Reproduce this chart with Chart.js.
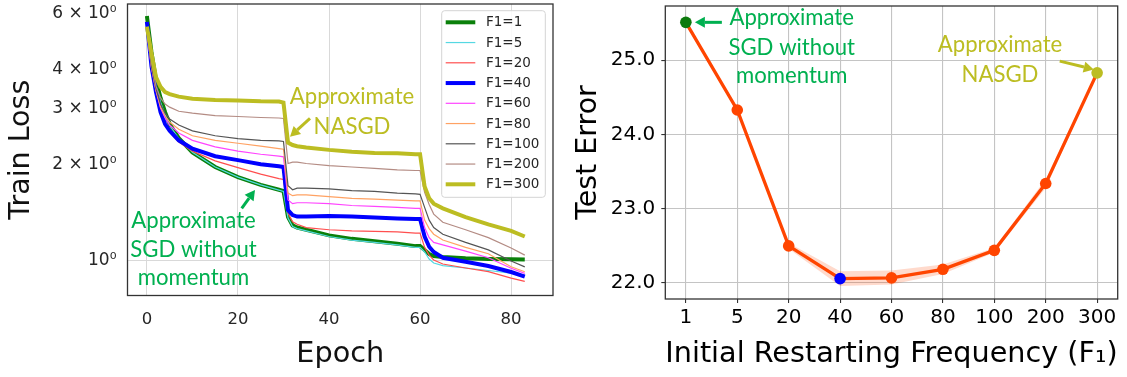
<!DOCTYPE html>
<html><head><meta charset="utf-8">
<script src="https://cdn.jsdelivr.net/npm/chart.js@4.4.1/dist/chart.umd.min.js"></script>
<style>
body{margin:0;background:#fff;width:1127px;height:377px;overflow:hidden;position:relative}
canvas{position:absolute;top:0}
#c1{left:0}#c2{left:560px}
</style></head><body>
<canvas id="c1" width="560" height="377"></canvas>
<canvas id="c2" width="567" height="377"></canvas>
<script>
// ---------- data: left panel (train loss, log scale) ----------
const epochs = [0,1,2,3,4,5,7,10,15,20,25,29,30,31,32,33,35,40,45,50,55,59,60,61,62,63,65,70,75,80,83];
const lossF1_1   = [5.88,4.53,3.70,3.25,2.93,2.69,2.43,2.19,1.97,1.83,1.73,1.67,1.655,1.37,1.29,1.27,1.25,1.20,1.17,1.15,1.13,1.11,1.11,1.08,1.048,1.033,1.025,1.016,1.011,1.009,1.007];
const lossF1_5   = [5.6,4.3,3.55,3.15,2.87,2.66,2.42,2.19,1.97,1.83,1.73,1.665,1.65,1.36,1.28,1.26,1.24,1.19,1.16,1.14,1.12,1.10,1.10,1.064,1.011,0.982,0.964,0.947,0.930,0.913,0.900];
const lossF1_20  = [5.5,4.06,3.39,2.93,2.69,2.54,2.36,2.21,2.06,1.96,1.87,1.81,1.80,1.41,1.325,1.30,1.27,1.25,1.24,1.235,1.23,1.22,1.22,1.10,1.04,1.004,0.975,0.947,0.923,0.88,0.86];
const lossF1_40  = [5.64,4.09,3.39,2.93,2.69,2.56,2.39,2.25,2.13,2.07,2.01,1.98,1.97,1.44,1.39,1.375,1.375,1.38,1.375,1.366,1.356,1.35,1.35,1.19,1.105,1.064,1.02,0.991,0.961,0.92,0.89];
const lossF1_60  = [5.3,4.05,3.42,3.02,2.81,2.67,2.52,2.39,2.28,2.21,2.16,2.13,2.12,1.55,1.51,1.52,1.52,1.51,1.49,1.48,1.47,1.46,1.46,1.27,1.18,1.14,1.12,1.07,1.02,0.945,0.911];
const lossF1_80  = [5.3,4.06,3.44,3.04,2.85,2.73,2.59,2.47,2.39,2.34,2.29,2.25,2.24,1.63,1.60,1.61,1.61,1.59,1.57,1.56,1.55,1.54,1.54,1.34,1.26,1.21,1.16,1.10,1.05,0.956,0.922];
const lossF1_100 = [5.4,4.09,3.47,3.11,2.91,2.79,2.67,2.56,2.47,2.42,2.39,2.38,2.37,1.72,1.67,1.69,1.69,1.68,1.66,1.65,1.63,1.62,1.615,1.47,1.34,1.27,1.21,1.14,1.08,0.996,0.955];
const lossF1_200 = [5.35,4.21,3.54,3.25,3.11,3.04,2.95,2.91,2.86,2.84,2.82,2.81,2.80,2.02,2.04,2.04,2.02,1.99,1.97,1.95,1.93,1.92,1.92,1.64,1.50,1.40,1.32,1.25,1.18,1.095,1.04];
const lossF1_300 = [5.45,4.50,3.78,3.52,3.39,3.34,3.28,3.23,3.20,3.19,3.17,3.165,3.14,2.35,2.31,2.29,2.27,2.23,2.20,2.18,2.175,2.16,2.16,1.71,1.57,1.51,1.46,1.37,1.30,1.24,1.19];
const seriesLabels = ['F1=1','F1=5','F1=20','F1=40','F1=60','F1=80','F1=100','F1=200','F1=300'];
const lossSeries = [lossF1_1,lossF1_5,lossF1_20,lossF1_40,lossF1_60,lossF1_80,lossF1_100,lossF1_200,lossF1_300];
const lossTickValues = [1,2,3,4,6];
const lossTickLabels = ['10\u2070','2 \u00d7 10\u2070','3 \u00d7 10\u2070','4 \u00d7 10\u2070','6 \u00d7 10\u2070'];
const epochTicks = [0,20,40,60,80];

// ---------- data: right panel (test error) ----------
const freqCategories = ['1','5','20','40','60','80','100','200','300'];
const testError     = [25.51,24.33,22.50,22.06,22.07,22.185,22.44,23.34,24.83];
const testErrorLow  = [25.50,24.32,22.46,21.96,21.98,22.12,22.41,23.28,24.81];
const testErrorHigh = [25.52,24.34,22.54,22.16,22.17,22.25,22.47,23.40,24.85];
const errorTicks = [22,23,24,25];

// ---------- styles ----------
const seriesColors = ['#0a800a','#55d8e2','#ff4f4f','#0000ff','#ff44ff','#ffa263','#555555','#b48c84','#bcbd22'];
const seriesWidths = [4,1.2,1.2,4,1.2,1.2,1.2,1.2,4];
const pointColors = ['#0d7a0d','#ff4500','#ff4500','#0000ff','#ff4500','#ff4500','#ff4500','#ff4500','#bcbd22'];
const GREEN_TXT = '#00b050', OLIVE_TXT = '#bcbd22';
const TICKFONT = 'DejaVu Sans';

function arrow(ctx,x1,y1,x2,y2,color,lw,head){
  const a=Math.atan2(y2-y1,x2-x1);
  const bx=x2-head*Math.cos(a), by=y2-head*Math.sin(a);
  ctx.save();
  ctx.strokeStyle=color; ctx.lineWidth=lw; ctx.lineCap='butt';
  ctx.beginPath(); ctx.moveTo(x1,y1); ctx.lineTo(bx,by); ctx.stroke();
  ctx.fillStyle=color; ctx.beginPath(); ctx.moveTo(x2,y2);
  const w=head*0.55;
  ctx.lineTo(bx+w*Math.sin(a), by-w*Math.cos(a));
  ctx.lineTo(bx-w*Math.sin(a), by+w*Math.cos(a));
  ctx.closePath(); ctx.fill(); ctx.restore();
}
function fitSize(ctx,text,family,target){
  ctx.font='100px "'+family+'"';
  return 100*target/ctx.measureText(text).width;
}
function textLines(ctx,lines,cx,ys,color,size,family){
  ctx.save(); ctx.fillStyle=color; ctx.font=size+'px "'+family+'"';
  ctx.textAlign='center'; ctx.textBaseline='middle';
  lines.forEach((t,i)=>ctx.fillText(t,cx,ys[i])); ctx.restore();
}
const ANNOT_FONT='Lato';

const framePlugin = {
  id:'frame',
  afterDatasetsDraw(chart){
    const {ctx,chartArea:a}=chart;
    ctx.save(); ctx.strokeStyle='#333'; ctx.lineWidth=1.3;
    ctx.strokeRect(a.left,a.top,a.right-a.left,a.bottom-a.top); ctx.restore();
  }
};

// ---------- left chart ----------
const leftAnnot = {
  id:'leftAnnot',
  afterDatasetsDraw(chart){
    const ctx=chart.ctx;
    ctx.save();
    const bx=441.7, by=10.7, bw=103.6, bh=186.6, r=3;
    ctx.beginPath(); ctx.roundRect(bx,by,bw,bh,r);
    ctx.fillStyle='rgba(255,255,255,0.85)'; ctx.fill();
    ctx.strokeStyle='#d4d4d4'; ctx.lineWidth=1; ctx.stroke();
    chart.data.datasets.forEach((d,i)=>{
      const y=22.3+i*20.25;
      ctx.strokeStyle=d.borderColor; ctx.lineWidth=d.borderWidth;
      ctx.beginPath(); ctx.moveTo(445.7,y); ctx.lineTo(475.3,y); ctx.stroke();
      ctx.fillStyle='#262626'; ctx.font='13.5px "'+TICKFONT+'"';
      ctx.textAlign='left'; ctx.textBaseline='middle';
      ctx.fillText(d.label,486,y+0.5);
    });
    ctx.restore();
    const fs=fitSize(ctx,'Approximate',ANNOT_FONT,124.5);
    textLines(ctx,['Approximate','NASGD'],352,[96.7,126.7],OLIVE_TXT,fs,ANNOT_FONT);
    arrow(ctx,310,118.3,290,136.7,OLIVE_TXT,3,10);
    textLines(ctx,['Approximate','SGD without','momentum'],193.5,[220.7,250,278.3],GREEN_TXT,fs,ANNOT_FONT);
    arrow(ctx,241.7,208.3,255,190,GREEN_TXT,3,10);
  }
};

new Chart(document.getElementById('c1'),{
  type:'line',
  data:{datasets:lossSeries.map((s,i)=>({
    label:seriesLabels[i],
    data:epochs.map((e,j)=>({x:e,y:s[j]})),
    borderColor:seriesColors[i], backgroundColor:seriesColors[i],
    borderWidth:seriesWidths[i], pointRadius:0, tension:0, fill:false,
    order:8-i
  }))},
  options:{
    responsive:false, animation:false, devicePixelRatio:1,
    layout:{padding:{top:4,right:7,left:0,bottom:0}},
    plugins:{legend:{display:false},tooltip:{enabled:false}},
    scales:{
      x:{type:'linear',min:-4.26,max:89.2,
        afterBuildTicks:s=>{s.ticks=epochTicks.map(v=>({value:v}));},
        afterFit:s=>{s.height=81.5;s.paddingLeft=0;s.paddingRight=0;},
        ticks:{autoSkip:false,maxRotation:0,padding:14,color:'#262626',font:{family:TICKFONT,size:16.5},callback:v=>String(v)},
        grid:{color:'#d9d9d9',lineWidth:1,drawTicks:false},
        border:{display:false},
        title:{display:true,text:'Epoch',color:'#111',font:{family:TICKFONT,size:28.7},padding:{top:0,bottom:4.8}}
      },
      y:{type:'logarithmic',min:0.776,max:6.42,
        afterBuildTicks:s=>{s.ticks=lossTickValues.map(v=>({value:v}));},
        afterFit:s=>{s.width=127.5;s.paddingTop=0;s.paddingBottom=0;},
        ticks:{autoSkip:false,padding:11,color:'#262626',font:{family:TICKFONT,size:17},
          callback:v=>lossTickLabels[lossTickValues.indexOf(v)]},
        grid:{color:c=>(c.tick&&c.tick.value===1)?'#d9d9d9':'rgba(0,0,0,0)',lineWidth:1,drawTicks:false},
        border:{display:false},
        title:{display:true,text:'Train Loss',color:'#111',font:{family:TICKFONT,size:28.5},padding:{top:4.6,bottom:0}}
      }
    }
  },
  plugins:[framePlugin,leftAnnot]
});

// ---------- right chart ----------
const rightAnnot = {
  id:'rightAnnot',
  afterDatasetsDraw(chart){
    const ctx=chart.ctx, xs=chart.scales.x, ys=chart.scales.y;
    const fs=fitSize(ctx,'Approximate',ANNOT_FONT,124.5);
    textLines(ctx,['Approximate','SGD without','momentum'],231.7,[18.3,47.7,76],GREEN_TXT,fs,ANNOT_FONT);
    const p0x=xs.getPixelForValue(0), p0y=ys.getPixelForValue(testError[0]);
    arrow(ctx,p0x+36,p0y,p0x+9,p0y,GREEN_TXT,3,10);
    textLines(ctx,['Approximate','NASGD'],440,[45,75],OLIVE_TXT,fs,ANNOT_FONT);
    const p8x=xs.getPixelForValue(8), p8y=ys.getPixelForValue(testError[8]);
    arrow(ctx,p8x-37.4,p8y-11.7,p8x-3.4,p8y-3.4,OLIVE_TXT,3,10);
  }
};

new Chart(document.getElementById('c2'),{
  type:'line',
  data:{datasets:[
    {label:'mean',data:testError.map((v,i)=>({x:i,y:v})),borderColor:'#ff4500',borderWidth:3.3,
     pointRadius:5.8,pointHoverRadius:5.8,pointBackgroundColor:pointColors,pointBorderWidth:0,tension:0,fill:false,order:0},
    {label:'low',data:testErrorLow.map((v,i)=>({x:i,y:v})),borderWidth:0,borderColor:'rgba(0,0,0,0)',pointRadius:0,fill:false,order:1},
    {label:'high',data:testErrorHigh.map((v,i)=>({x:i,y:v})),borderWidth:0,borderColor:'rgba(0,0,0,0)',pointRadius:0,
     fill:1,backgroundColor:'rgba(255,69,0,0.2)',order:2}
  ]},
  options:{
    responsive:false, animation:false, devicePixelRatio:1,
    layout:{padding:{top:6,right:9.3,left:0,bottom:0}},
    plugins:{legend:{display:false},tooltip:{enabled:false},filler:{propagate:false}},
    scales:{
      x:{type:'linear',min:-0.4,max:8.4,
        afterBuildTicks:s=>{s.ticks=freqCategories.map((c,i)=>({value:i}));},
        afterFit:s=>{s.height=78;s.paddingLeft=0;s.paddingRight=0;},
        ticks:{autoSkip:false,maxRotation:0,padding:3,color:'#000',font:{family:TICKFONT,size:20},callback:v=>freqCategories[v]},
        grid:{color:'#c4c4c4',lineWidth:1.1,drawTicks:true,tickLength:4,tickColor:'#333'},
        border:{display:false},
        title:{display:true,text:'Initial Restarting Frequency (F\u2081)',color:'#000',font:{family:TICKFONT,size:28.8},padding:{top:0,bottom:4.9}}
      },
      y:{type:'linear',min:21.785,max:25.73,
        afterBuildTicks:s=>{s.ticks=errorTicks.map(v=>({value:v}));},
        afterFit:s=>{s.width=105.3;s.paddingTop=0;s.paddingBottom=0;},
        ticks:{autoSkip:false,padding:6,color:'#000',font:{family:TICKFONT,size:20},callback:v=>v.toFixed(1)},
        grid:{color:'#c4c4c4',lineWidth:1.1,drawTicks:true,tickLength:4,tickColor:'#333'},
        border:{display:false},
        title:{display:true,text:'Test Error',color:'#000',font:{family:TICKFONT,size:28.5},padding:{top:11.9,bottom:0}}
      }
    }
  },
  plugins:[framePlugin,rightAnnot]
});
</script>
</body></html>
